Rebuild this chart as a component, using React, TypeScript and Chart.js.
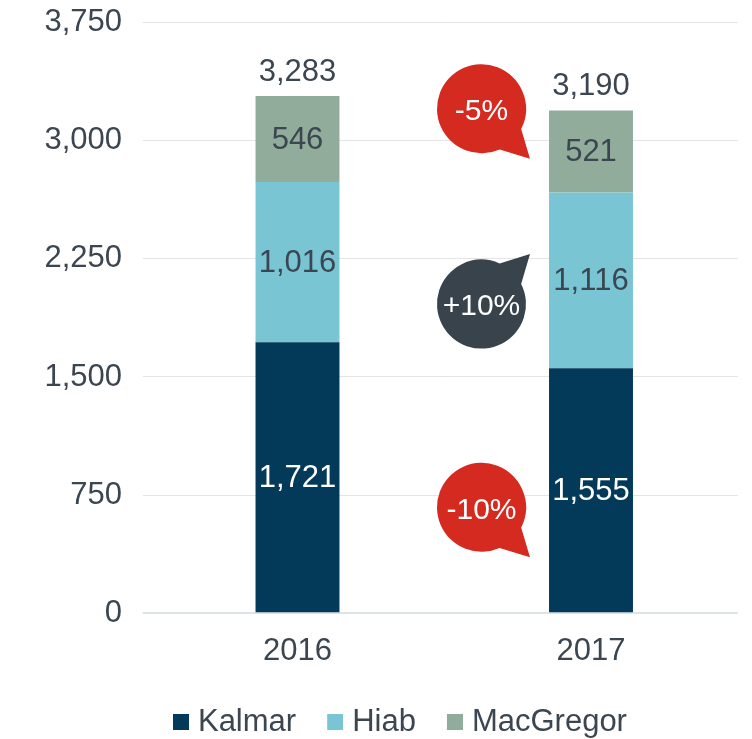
import React, { useEffect, useRef } from 'react';
import { Chart, registerables } from 'chart.js';

Chart.register(...registerables);

const categories = ['2016', '2017'];
const seriesNames = ['Kalmar', 'Hiab', 'MacGregor'];
const kalmar = [1721, 1555];
const hiab = [1016, 1116];
const macgregor = [546, 521];
const totals = [3283, 3190];
const yMax = 3750;
const yStep = 750;

const changeLabels = ['-5%', '+10%', '-10%'];
const changeAnchors = [3190, 1950, 660];
const changeUp = [false, true, false];

const FONT = "'Liberation Sans', Arial, sans-serif";
const TEXT = '#3b4650';
const COLORS = ['#033a5a', '#79c5d4', '#92ac9c'];
const BUBBLE_COLORS = ['#d42a1f', '#38434c', '#d42a1f'];

function fmt(v: number) {
  return v.toLocaleString('en-US');
}

function makeSwatch(color: string) {
  const c = document.createElement('canvas');
  c.width = 44;
  c.height = 16;
  const g = c.getContext('2d')!;
  g.fillStyle = color;
  g.fillRect(28, 0, 16, 16);
  return c;
}

const deg = (d: number) => (d * Math.PI) / 180;

const labelPlugin = {
  id: 'valueLabels',
  afterDatasetsDraw(chart: any) {
    const ctx = chart.ctx;
    ctx.save();
    ctx.textAlign = 'center';
    ctx.textBaseline = 'middle';
    ctx.font = `31px ${FONT}`;
    chart.data.datasets.forEach((ds: any, di: number) => {
      const meta = chart.getDatasetMeta(di);
      meta.data.forEach((el: any, i: number) => {
        ctx.fillStyle = di === 0 ? '#ffffff' : TEXT;
        ctx.fillText(fmt(ds.data[i]), el.x, (el.y + el.base) / 2 + 1);
      });
    });
    const topMeta = chart.getDatasetMeta(chart.data.datasets.length - 1);
    topMeta.data.forEach((el: any, i: number) => {
      ctx.fillStyle = TEXT;
      ctx.fillText(fmt(totals[i]), el.x, el.y - 24);
    });

    // change bubbles
    const xs = chart.scales.x;
    const ys = chart.scales.y;
    const cx = xs.getPixelForValue(1) - 109.5;
    const r = 44.5;
    changeLabels.forEach((lab, i) => {
      const cy = ys.getPixelForValue(changeAnchors[i]) - 2;
      const up = changeUp[i];
      ctx.beginPath();
      if (!up) {
        ctx.arc(cx, cy, r, deg(66), deg(27) + Math.PI * 2, false);
        ctx.lineTo(cx + 48.5, cy + 50);
      } else {
        ctx.arc(cx, cy, r, deg(-27), deg(-66) + Math.PI * 2, false);
        ctx.lineTo(cx + 48.5, cy - 50);
      }
      ctx.closePath();
      ctx.fillStyle = BUBBLE_COLORS[i];
      ctx.fill();
      ctx.fillStyle = '#ffffff';
      ctx.font = `30px ${FONT}`;
      ctx.fillText(lab, cx, cy + 3);
    });
    ctx.restore();
  },
};

export default function App() {
  const ref = useRef<HTMLCanvasElement>(null);
  useEffect(() => {
    const swatches = COLORS.map(makeSwatch);
    const chart = new Chart(ref.current!, {
      type: 'bar',
      data: {
        labels: categories,
        datasets: [
          { label: seriesNames[0], data: kalmar, backgroundColor: COLORS[0] },
          { label: seriesNames[1], data: hiab, backgroundColor: COLORS[1] },
          { label: seriesNames[2], data: macgregor, backgroundColor: COLORS[2] },
        ],
      },
      options: {
        responsive: false,
        animation: false,
        devicePixelRatio: 1,
        layout: { padding: { top: 22.5, left: 40.65, right: 14.25, bottom: 0.5 } },
        datasets: { bar: { barPercentage: 0.286, categoryPercentage: 1, borderWidth: 0 } },
        plugins: {
          tooltip: { enabled: false },
          legend: {
            position: 'bottom',
            labels: {
              usePointStyle: true,
              pointStyleWidth: 31,
              padding: 9.5,
              color: TEXT,
              font: { size: 31, family: FONT },
              generateLabels: (chart: any) => {
                const items = Chart.defaults.plugins.legend.labels.generateLabels(chart);
                return items.map((it: any, i: number) => ({ ...it, pointStyle: swatches[i] }));
              },
            },
          },
        },
        scales: {
          x: {
            stacked: true,
            grid: { display: false, drawTicks: false },
            border: { display: false },
            ticks: { color: TEXT, font: { size: 31, family: FONT }, padding: 20 },
            afterFit: (s: any) => {
              s.height = 83.7;
              s.paddingLeft = 0;
              s.paddingRight = 0;
            },
          },
          y: {
            stacked: true,
            min: 0,
            max: yMax,
            border: { display: false },
            grid: {
              color: (c: any) => (c.tick && c.tick.value === 0 ? '#dde3e8' : '#e4e4e4'),
              lineWidth: (c: any) => (c.tick && c.tick.value === 0 ? 2 : 1),
              tickLength: 8,
            },
            ticks: {
              stepSize: yStep,
              color: TEXT,
              font: { size: 31, family: FONT },
              padding: 20.75,
              callback: (v: any) => fmt(Number(v)),
            },
            afterFit: (s: any) => {
              s.width = 110.1;
              s.paddingTop = 0;
              s.paddingBottom = 0;
            },
          },
        },
      },
      plugins: [labelPlugin],
    } as any);
    return () => chart.destroy();
  }, []);
  return (
    <div style={{ position: 'fixed', left: 0, top: 0, width: 752, height: 739, overflow: 'hidden', background: '#fff' }}>
      <canvas ref={ref} width={752} height={748} style={{ display: 'block' }} />
    </div>
  );
}
